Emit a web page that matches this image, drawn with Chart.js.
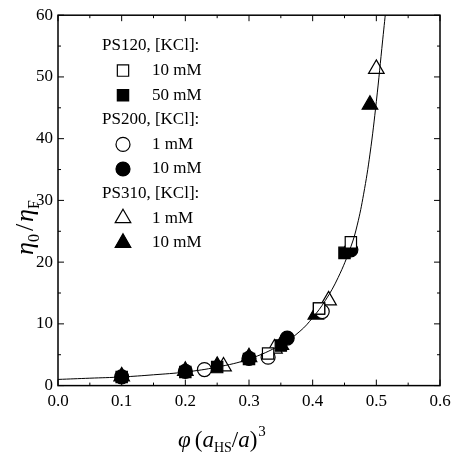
<!DOCTYPE html><html><head><script src="https://cdn.jsdelivr.net/npm/chart.js@4"></script>
<style>body{margin:0;background:#fff}#w{width:470px;height:464px}</style></head><body><div id="w"><canvas id="c"></canvas></div>
<script>
const fitX=[0,0.05,0.1,0.15,0.2,0.25,0.3,0.35,0.38,0.4,0.42,0.44,0.46,0.47,0.48,0.49,0.5,0.51,0.516];
const fitY=[1,1.2,1.4,1.75,2.2,3.0,4.3,6.6,8.8,11.0,13.8,17.5,22.5,26,31,37.5,46,56,62];
const ps120_10={x:[0.33,0.41,0.46],y:[5.2,12.5,23.2]};
const ps120_50={x:[0.1,0.2,0.25,0.3,0.35,0.41,0.45],y:[1.4,2.2,3.0,4.3,6.5,12.5,21.5]};
const ps200_1={x:[0.23,0.33,0.415],y:[2.6,4.6,12]};
const ps200_10={x:[0.1,0.2,0.3,0.36,0.46],y:[1.4,2.3,4.4,7.7,22]};
const ps310_1={x:[0.26,0.34,0.425,0.5],y:[3.1,6.0,13.8,51.3]};
const ps310_10={x:[0.1,0.2,0.25,0.3,0.35,0.405,0.49],y:[1.5,2.4,3.2,4.6,6.6,11.5,45.5]};
const xTicks=[0,0.1,0.2,0.3,0.4,0.5,0.6];
const z=(o)=>o.x.map((v,i)=>({x:v,y:o.y[i]}));
const F='"Liberation Serif"';
function ds(o,style,filled,r){return {type:'scatter',data:z(o),pointStyle:style,pointRadius:r,borderWidth:1.2,pointBorderColor:'#000',pointBackgroundColor:filled?'#000':'#fff',showLine:false};}
const deco={id:'deco',afterDraw(ch){const c=ch.ctx,a=ch.chartArea,xs=ch.scales.x,ys=ch.scales.y;c.save();
c.strokeStyle='#000';c.lineWidth=1.5;c.strokeRect(a.left,a.top,a.right-a.left,a.bottom-a.top);c.lineWidth=1;
for(let v=0;v<=0.6001;v+=0.05){const p=xs.getPixelForValue(v),L=(Math.round(v*100)%10==0)?6:3;c.beginPath();c.moveTo(p,a.bottom);c.lineTo(p,a.bottom-L);c.moveTo(p,a.top);c.lineTo(p,a.top+L);c.stroke();}
for(let v=0;v<=60;v+=5){const p=ys.getPixelForValue(v),L=(v%10==0)?6:3;c.beginPath();c.moveTo(a.left,p);c.lineTo(a.left+L,p);c.moveTo(a.right,p);c.lineTo(a.right-L,p);c.stroke();}
c.fillStyle='#000';c.textBaseline='alphabetic';
let x=178,yb=447;c.font='italic 23px '+F;c.fillText('φ',x,yb);x+=c.measureText('φ').width+4;c.font='23px '+F;c.fillText('(',x,yb);x+=c.measureText('(').width;
c.font='italic 23px '+F;c.fillText('a',x,yb);x+=c.measureText('a').width;c.font='14px '+F;c.fillText('HS',x,yb+5);x+=c.measureText('HS').width;
c.font='23px '+F;c.fillText('/',x,yb);x+=c.measureText('/').width;c.font='italic 23px '+F;c.fillText('a',x,yb);x+=c.measureText('a').width;
c.font='23px '+F;c.fillText(')',x,yb);x+=c.measureText(')').width;c.font='15px '+F;c.fillText('3',x+1,yb-11);
c.translate(33,255);c.rotate(-Math.PI/2);x=0;c.font='italic 26px '+F;c.fillText('η',x,0);x+=c.measureText('η').width;c.font='16px '+F;c.fillText('0',x,6);x+=c.measureText('0').width+3;
c.font='26px '+F;c.fillText('/',x,0);x+=c.measureText('/').width+2;c.font='italic 26px '+F;c.fillText('η',x,0);x+=c.measureText('η').width;c.font='16px '+F;c.fillText('F',x,6);
c.setTransform(1,0,0,1,0,0);c.restore();c.save();
c.font='17px '+F;c.fillStyle='#000';c.textBaseline='middle';
const items=[['PS120, [KCl]:'],['rect',false,'10 mM'],['rect',true,'50 mM'],['PS200, [KCl]:'],['circle',false,'1 mM'],['circle',true,'10 mM'],['PS310, [KCl]:'],['triangle',false,'1 mM'],['triangle',true,'10 mM']];
let y=46;items.forEach(it=>{if(it.length==1){c.fillText(it[0],102,y);}else{c.fillStyle=it[1]?'#000':'#fff';c.strokeStyle='#000';c.lineWidth=1.2;
Chart.helpers.drawPoint(c,{pointStyle:it[0],radius:it[0]=='rect'?8:it[0]=='circle'?7:9,rotation:0,borderWidth:1.2},123,y);if(it[1])c.fill();c.fillStyle='#000';c.fillText(it[2],152,y);}y+=24.6;});
c.restore();}};
new Chart(document.getElementById('c'),{type:'scatter',data:{datasets:[
{type:'line',data:fitX.map((v,i)=>({x:v,y:fitY[i]})),borderColor:'#000',borderWidth:1,pointRadius:0,tension:0.4,fill:false},
ds(ps120_10,'rect',false,8),ds(ps120_50,'rect',true,8),ds(ps200_1,'circle',false,7),ds(ps200_10,'circle',true,7),ds(ps310_1,'triangle',false,9),ds(ps310_10,'triangle',true,9)]},
plugins:[deco],
options:{responsive:true,maintainAspectRatio:false,animation:false,clip:true,layout:{padding:{top:6,right:30,left:31,bottom:46}},
plugins:{legend:{display:false},tooltip:{enabled:false}},
scales:{x:{type:'linear',min:0,max:0.6,afterBuildTicks:a=>{a.ticks=xTicks.map(v=>({value:v}));},grid:{display:false,drawTicks:false},border:{display:false},
ticks:{font:{family:F,size:17},color:'#000',padding:6,callback:v=>v.toFixed(1)}},
y:{min:0,max:60,ticks:{stepSize:10,font:{family:F,size:17},color:'#000',padding:5},grid:{display:false,drawTicks:false},border:{display:false}}}}});
</script></body></html>
